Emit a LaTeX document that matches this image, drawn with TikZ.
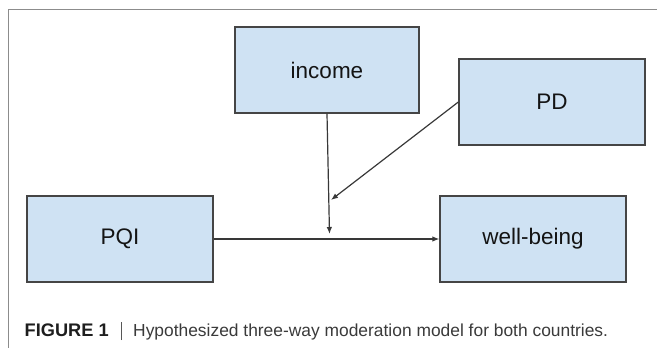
\documentclass[tikz,border=0pt]{standalone}
\usepackage{fontspec}
\setmainfont{Liberation Sans}
\usetikzlibrary{arrows.meta}
\definecolor{boxfill}{HTML}{CFE2F3}
\definecolor{boxdraw}{HTML}{454545}
\definecolor{framegray}{HTML}{8C8C8C}
\definecolor{captext}{HTML}{3A3A3A}
\definecolor{capbold}{HTML}{1E1E1E}
\begin{document}
\begin{tikzpicture}[x=1pt,y=-1pt,
  var/.style={draw=boxdraw, fill=boxfill, line width=1.3pt, minimum width=186pt,
    minimum height=86pt, inner sep=0pt, font=\fontsize{22.5}{26}\selectfont, text=black!92},
  conn/.style={draw=black!78, line width=1.2pt, -{Latex[length=7pt,width=5.5pt]}},
  captionstyle/.style={inner sep=0pt, anchor=base west, font=\fontsize{17.4}{22}\selectfont}]
  \useasboundingbox (0,0) rectangle (657,348);
  % frame
  \draw[framegray, line width=1.3pt] (8.5,348) -- (8.5,9.5) -- (657,9.5);
  % variables
  \node[var, minimum width=184pt] (income) at (327,70) {income};
  \node[var] (pd) at (552,102) {PD};
  \node[var] (pqi) at (120,239) {PQI};
  \node[var] (wb) at (533,239) {well-being};
  % moderation points
  \coordinate (m1) at (329.5,234);
  \coordinate (m2) at (331,200);
  % connectors
  \draw[conn] (pqi.east) -- (wb.west);
  \draw[conn] (income.south) -- (m1);
  \draw[conn] (pd.west) -- (m2);
  % caption
  \node[captionstyle, font=\fontsize{18.2}{22}\selectfont\bfseries, text=capbold] (fig) at (24.5,336) {FIGURE 1};
  \node[captionstyle, anchor=base, text=captext!85!white] (bar) at (121.5,336) {\rule[-4pt]{1.8pt}{18.5pt}};
  \node[captionstyle, text=captext] (captxt) at (133,336) {Hypothesized three-way moderation model for both countries.};
\end{tikzpicture}
\end{document}
